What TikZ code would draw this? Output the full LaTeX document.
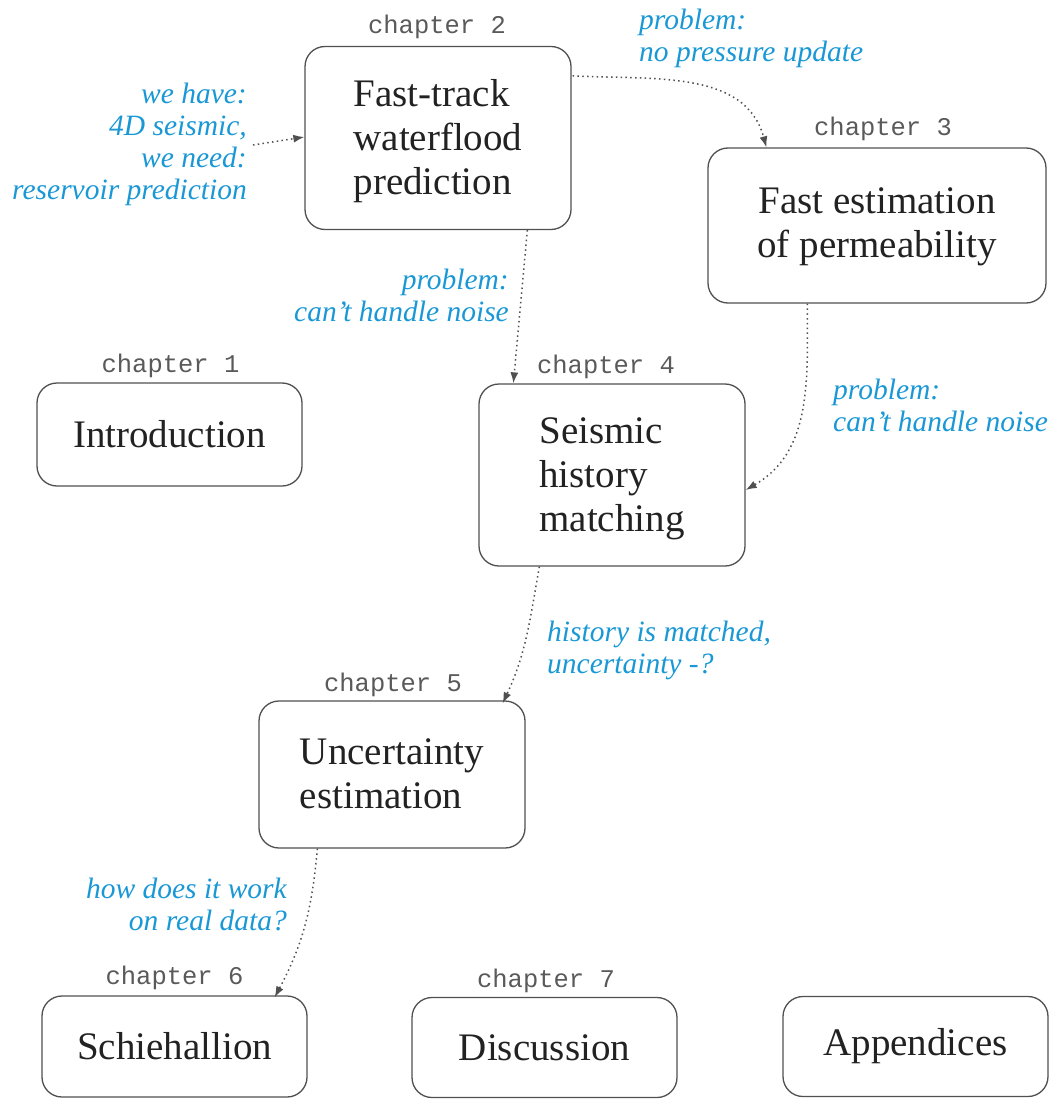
\documentclass[tikz,border=0pt]{standalone}
\usepackage{fontspec}
\setmainfont{Liberation Serif}
\setmonofont{Liberation Mono}
\usetikzlibrary{arrows.meta,calc}
\definecolor{noteblue}{HTML}{1A98D5}
\definecolor{boxgray}{HTML}{505050}
\definecolor{labelgray}{HTML}{5A5A5A}
\definecolor{txtdark}{HTML}{222222}
\tikzset{
  chapbox/.style={draw=boxgray, line width=1.3pt, rounded corners=20pt, align=left,
    inner sep=0pt, text=txtdark, font=\fontsize{39}{44}\selectfont},
  chaplabel/.style={anchor=base, inner sep=0pt, text=labelgray, font=\ttfamily\fontsize{25.5}{28}\selectfont},
  note/.style={inner sep=0pt, text=noteblue, font=\itshape\fontsize{29.5}{32}\selectfont},
  link/.style={draw=boxgray, line width=1.5pt, dash pattern=on 1.5pt off 3.3pt,
    -{Latex[length=11pt,width=8pt]}, shorten >=0pt}
}
\begin{document}
\begin{tikzpicture}[x=1pt,y=-1pt]
\useasboundingbox (0,0) rectangle (1060,1099);
% boxes
\node[chapbox, minimum width=266, minimum height=183, text depth=2pt] (b2) at (438,138) {Fast-track\\waterflood\\prediction};
\node[chapbox, minimum width=338, minimum height=155, align=center, text depth=5pt] (b3) at (877,225.5) {Fast estimation\\of permeability};
\node[chapbox, minimum width=265, minimum height=103] (b1) at (169.5,434.5) {Introduction};
\node[chapbox, minimum width=266, minimum height=182, text depth=0pt] (b4) at (612,475) {Seismic\\history\\matching};
\node[chapbox, minimum width=266, minimum height=147, text depth=1pt] (b5) at (392,774.5) {Uncertainty\\estimation};
\node[chapbox, minimum width=265, minimum height=101] (b6) at (174.5,1046.5) {Schiehallion};
\node[chapbox, minimum width=265, minimum height=100] (b7) at (544.5,1047.5) {Discussion};
\node[chapbox, minimum width=265, minimum height=100] (b8) at (915.5,1046.5) {Appendices};
% chapter labels
\node[chaplabel] (l2) at (437,34) {chapter 2};
\node[chaplabel] (l3) at (883,136) {chapter 3};
\node[chaplabel] (l1) at (170.5,372) {chapter 1};
\node[chaplabel] (l4) at (606,373) {chapter 4};
\node[chaplabel] (l5) at (393,691) {chapter 5};
\node[chaplabel] (l6) at (174.5,984) {chapter 6};
\node[chaplabel] (l7) at (546,987) {chapter 7};
% notes
\node[note, align=right, anchor=north east] (n1) at (247,83) {we have:\\4D seismic,\\we need:\\reservoir prediction};
\node[note, align=left, anchor=north west] (n2) at (639,9) {problem:\\no pressure update};
\node[note, align=right, anchor=north east] (n3) at (509,269) {problem:\\can’t handle noise};
\node[note, align=left, anchor=north west] (n4) at (833,379) {problem:\\can’t handle noise};
\node[note, align=left, anchor=north west] (n5) at (547,621) {history is matched,\\uncertainty -?};
\node[note, align=right, anchor=north east] (n6) at (287,878) {how does it work\\on real data?};
% connectors
\coordinate (s1) at (253,145);
\draw[link] (s1) -- ($(b2.west)+(0,-1)$);
\draw[link] ($(b2.north east)+(1,30)$) to[out=-3,in=105] ($(b3.north west)+(59,0)$);
\draw[link] ($(b2.south west)+(223,0)$) -- ($(b4.north west)+(35,0)$);
\draw[link] ($(b3.south west)+(100,0)$) to[out=-90,in=30] ($(b4.east)+(0,15)$);
\draw[link] ($(b4.south west)+(61,0)$) to[out=-100,in=65] ($(b5.north east)+(-23,3)$);
\draw[link] ($(b5.south west)+(59,0)$) to[out=-95,in=62] ($(b6.north east)+(-33,2)$);
\end{tikzpicture}
\end{document}
